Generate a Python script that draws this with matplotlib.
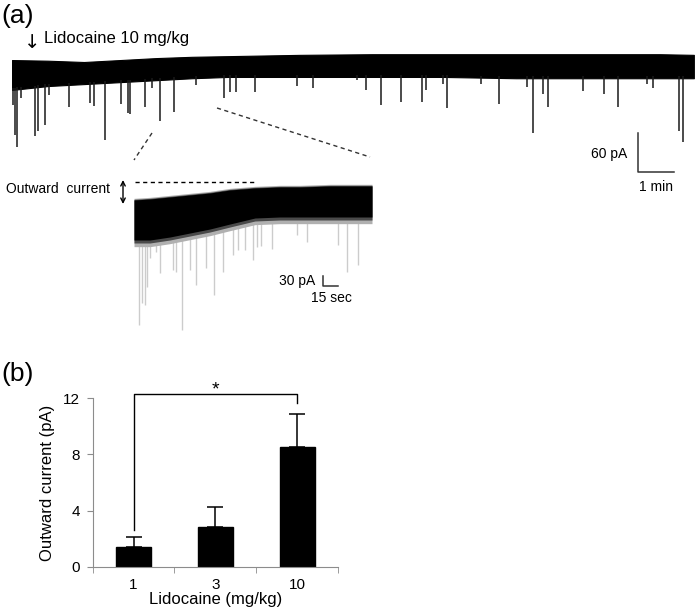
import numpy as np
import matplotlib
matplotlib.use('Agg')
import matplotlib.pyplot as plt

plt.rcParams['font.family'] = ['Liberation Sans', 'DejaVu Sans']

# (a) 全体トレース: 包絡線 (min, pA) と自発性EPSC (min, ピーク pA)
main_env_t = [0, 1, 2, 3, 4, 5, 6, 8, 10, 12, 14, 16, 18, 18.94]
main_env_top = [23, 22, 20, 23, 26, 28, 29, 31, 32, 32, 32, 32, 32, 31]
main_env_bot = [-23, -17, -14, -11, -8, -5, -3, -3, -3, -3, -5, -5, -5, -5]
main_evt_t = [0.02, 0.08, 0.13, 0.24, 0.64, 0.72, 0.92, 1.03, 1.58, 2.17, 2.28, 2.58,
              3.03, 3.22, 3.28, 3.69, 3.89, 4.11, 4.50, 5.11, 5.89, 6.06, 6.22, 6.75,
              7.92, 8.36, 9.58, 9.83, 10.25, 10.81, 11.39, 11.50, 11.97, 12.08, 13.03,
              13.53, 14.31, 14.47, 14.75, 14.89, 15.86, 16.44, 16.83, 17.64, 17.81,
              18.53, 18.64]
main_evt_pk = [-46, -92, -111, -35, -94, -86, -77, -31, -49, -43, -48, -100, -45, -58,
               -60, -49, -20, -71, -57, -15, -35, -26, -26, -26, -17, -20, -8, -23, -46,
               -42, -42, -23, -14, -51, -14, -45, -18, -89, -29, -49, -25, -29, -49, -14,
               -20, -86, -103]

# 拡大トレース (sec, pA)
ins_env_t = [0, 16, 36, 56, 76, 96, 121, 146, 166, 196, 238]
ins_env_top = [60, 63, 69, 75, 81, 90, 96, 99, 99, 102, 102]
ins_env_bot = [-60, -60, -51, -39, -27, -12, 6, 9, 9, 9, 9]
ins_evt_t = [5, 8, 11, 13, 16, 22, 26, 39, 42, 48, 56, 62, 72, 80, 89, 99, 104, 111,
             119, 123, 127, 138, 163, 173, 204, 213, 224]
ins_evt_pk = [-315, -249, -255, -201, -114, -96, -159, -150, -156, -330, -150, -195,
              -144, -225, -156, -105, -90, -90, -120, -81, -78, -87, -45, -66, -75,
              -156, -135]
baseline_level = 114

# (b) 棒グラフ
doses = ['1', '3', '10']
mean_current = [1.4, 2.8, 8.5]
sem_current = [0.7, 1.45, 2.4]

W, H = 697, 608
fig = plt.figure(figsize=(W / 100, H / 100), dpi=100)


def px_rect(x0, y0, x1, y1):
    return [x0 / W, 1 - y1 / H, (x1 - x0) / W, (y1 - y0) / H]


# 注釈用のピクセル座標オーバーレイ
ov = fig.add_axes([0, 0, 1, 1])
ov.set_xlim(0, W)
ov.set_ylim(H, 0)
ov.axis('off')
ov.text(1, 16, '(a)', fontsize=19, va='center', ha='left')
ov.text(1, 374, '(b)', fontsize=19, va='center', ha='left')
ov.text(32, 42, '\u2193', fontsize=14, va='center', ha='center',
        family=['DejaVu Sans'])
ov.text(44, 38, 'Lidocaine 10 mg/kg', fontsize=12, va='center', ha='left')
ov.plot([152, 134], [133, 160], color='#333333', lw=1, ls=(0, (3, 2.5)))
ov.plot([217, 370], [108, 157], color='#333333', lw=1, ls=(0, (3, 2.5)))

# 全体トレース
ax1 = fig.add_axes(px_rect(12, 40, 696, 200))
ax1.set_xlim(0, 19)
ax1.set_ylim(-192.3, 53.85)
ax1.axis('off')
ax1.fill_between(main_env_t, main_env_bot, main_env_top, color='black', lw=0.8)
base = np.interp(main_evt_t, main_env_t, main_env_bot) + 3
ax1.vlines(main_evt_t, main_evt_pk, base, color='#1a1a1a', lw=1.1)
sb_t, sb_i = 17.38, -148.8
ax1.plot([sb_t, sb_t, sb_t + 1], [sb_i + 60, sb_i, sb_i], color='#333333', lw=1.1)
ax1.text(sb_t - 0.28, sb_i + 28, '60 pA', fontsize=10, ha='right', va='center')
ax1.text(sb_t + 0.5, sb_i - 24, '1 min', fontsize=10, ha='center', va='center')

# 拡大トレース
ax2 = fig.add_axes(px_rect(120, 170, 380, 340))
ax2.set_xlim(-14, 246)
ax2.set_ylim(-360, 150)
ax2.axis('off')
ins_base = np.interp(ins_evt_t, ins_env_t, ins_env_bot) + 20
ax2.vlines(ins_evt_t, ins_evt_pk, ins_base, color='#cccccc', lw=1.0, zorder=0.5)
bot = np.array(ins_env_bot)
top = np.array(ins_env_top)
ax2.fill_between(ins_env_t, bot - 20, top + 5, color='#b0b0b0', lw=0, zorder=1)
ax2.fill_between(ins_env_t, bot - 9, top + 2, color='#4a4a4a', lw=0, zorder=1)
ax2.fill_between(ins_env_t, bot, top, color='black', lw=0, zorder=1)
ax2.plot([1, 123], [baseline_level, baseline_level], color='black', lw=1,
         ls=(0, (3, 2.5)))
ax2.annotate('', xy=(-11, 48), xytext=(-11, 120),
             arrowprops=dict(arrowstyle='<->', color='black', lw=1,
                             mutation_scale=8, shrinkA=0, shrinkB=0),
             annotation_clip=False)
ax2.text(-24, 93, 'Outward  current', fontsize=10, ha='right', va='center',
         clip_on=False)
ax2.plot([189, 189, 204], [-168, -198, -198], color='#333333', lw=1.1)
ax2.text(181, -183, '30 pA', fontsize=10, ha='right', va='center')
ax2.text(197, -234, '15 sec', fontsize=10, ha='center', va='center')

# (b) 棒グラフ
ax3 = fig.add_axes(px_rect(92.7, 398.3, 338, 566.7))
x = np.arange(len(doses))
ax3.bar(x, mean_current, width=0.43, color='black', edgecolor='black', zorder=2)
ax3.errorbar(x, mean_current, yerr=[np.zeros(len(x)), sem_current], fmt='none',
             ecolor='black', elinewidth=1.1, capsize=6, capthick=1.1, zorder=3)
ax3.set_xlim(-0.5, 2.5)
ax3.set_ylim(0, 12)
ax3.set_yticks([0, 4, 8, 12])
ax3.set_xticks(x)
ax3.set_xticklabels(doses)
ax3.set_xticks([-0.5, 0.5, 1.5, 2.5], minor=True)
ax3.tick_params(axis='x', which='major', length=0, pad=8, labelsize=11)
ax3.tick_params(axis='x', which='minor', length=4, color='#8c8c8c', direction='out')
ax3.tick_params(axis='y', length=4, color='#8c8c8c', labelsize=11, pad=5)
for s in ['top', 'right']:
    ax3.spines[s].set_visible(False)
for s in ['left', 'bottom']:
    ax3.spines[s].set_color('#8c8c8c')
ax3.set_ylabel('Outward current (pA)', fontsize=12, labelpad=6)
ax3.set_xlabel('Lidocaine (mg/kg)', fontsize=12, labelpad=0)

# 有意差ブラケット
ax3.plot([0, 0, 2, 2], [2.6, 12.29, 12.29, 11.65], color='black', lw=1, clip_on=False)
ax3.text(1, 12.6, '*', fontsize=14, ha='center', va='center')

fig.savefig('out.png', dpi=100)
